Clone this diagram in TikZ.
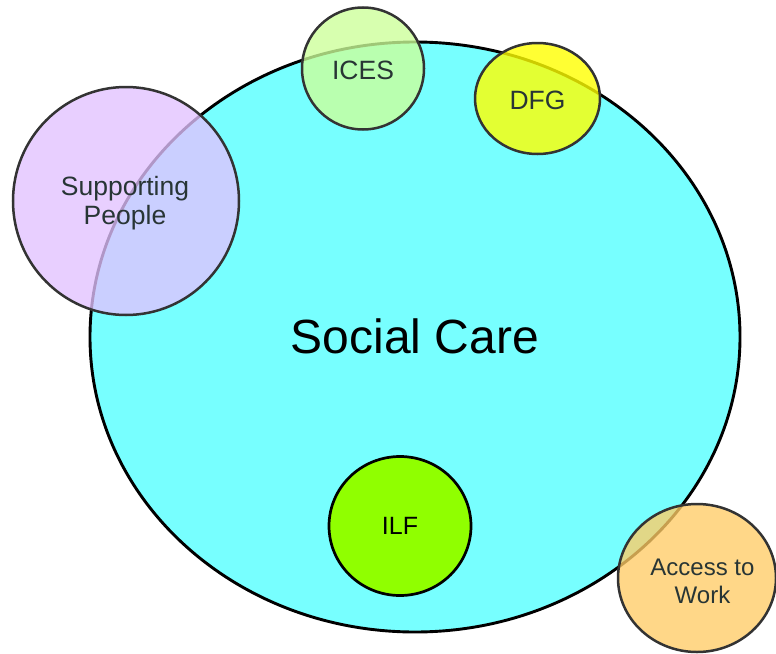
\documentclass[tikz,border=0pt]{standalone}
\usepackage{fontspec}
\setmainfont{Liberation Sans}
\usetikzlibrary{shapes.geometric}
\definecolor{carecyan}{HTML}{77FFFF}
\definecolor{icesgreen}{HTML}{CCFF99}
\definecolor{dfgyellow}{HTML}{FFFF00}
\definecolor{sppurple}{HTML}{E2C2FF}
\definecolor{ilfgreen}{HTML}{90FF00}
\definecolor{atworange}{HTML}{FFCC66}
\definecolor{edgegrey}{HTML}{333333}
\definecolor{labelgrey}{HTML}{283535}
\tikzset{
  blob/.style={ellipse, inner sep=0pt, align=center, line width=2.5pt,
    draw=edgegrey, fill opacity=0.78},
  bloblabel/.style={text=labelgrey, align=center, font=\fontsize{26.5}{29}\selectfont},
  solidblob/.style={ellipse, inner sep=0pt, align=center, line width=2.7pt,
    draw=black, text=black, font=\fontsize{25}{28}\selectfont}
}
\begin{document}
\begin{tikzpicture}[x=1pt,y=-1pt]
  \useasboundingbox (0,0) rectangle (776,653);
  \clip (0,0) rectangle (776,653);
  % main programme
  \node[ellipse, draw=black, line width=2.9pt, fill=carecyan,
        minimum width=650pt, minimum height=590pt, inner sep=0pt] (care) at (415,337) {};
  \node[font=\fontsize{48}{50}\selectfont] (caretext) at (415,336) {Social Care};
  % funding streams
  \node[solidblob, fill=ilfgreen, minimum width=142pt, minimum height=139pt] (ilf) at (400,526) {ILF};
  \node[blob, fill=icesgreen, minimum width=122pt, minimum height=122pt] (ices) at (363,68.5) {};
  \node[bloblabel] (icestext) at (363,70) {ICES};
  \node[blob, fill=dfgyellow, fill opacity=0.8, minimum width=125pt, minimum height=111pt] (dfg) at (537.5,98.5) {};
  \node[bloblabel] (dfgtext) at (537.5,100.5) {DFG};
  \node[blob, fill=sppurple, minimum width=226pt, minimum height=228pt] (sp) at (126,201) {};
  \node[bloblabel] (sptext) at (125,203) {Supporting\\People};
  \node[blob, fill=atworange, minimum width=158pt, minimum height=148pt] (atw) at (697,578) {};
  \node[bloblabel, font=\fontsize{24}{28}\selectfont] (atwtext) at (702.5,581) {Access to\\Work};
\end{tikzpicture}
\end{document}
